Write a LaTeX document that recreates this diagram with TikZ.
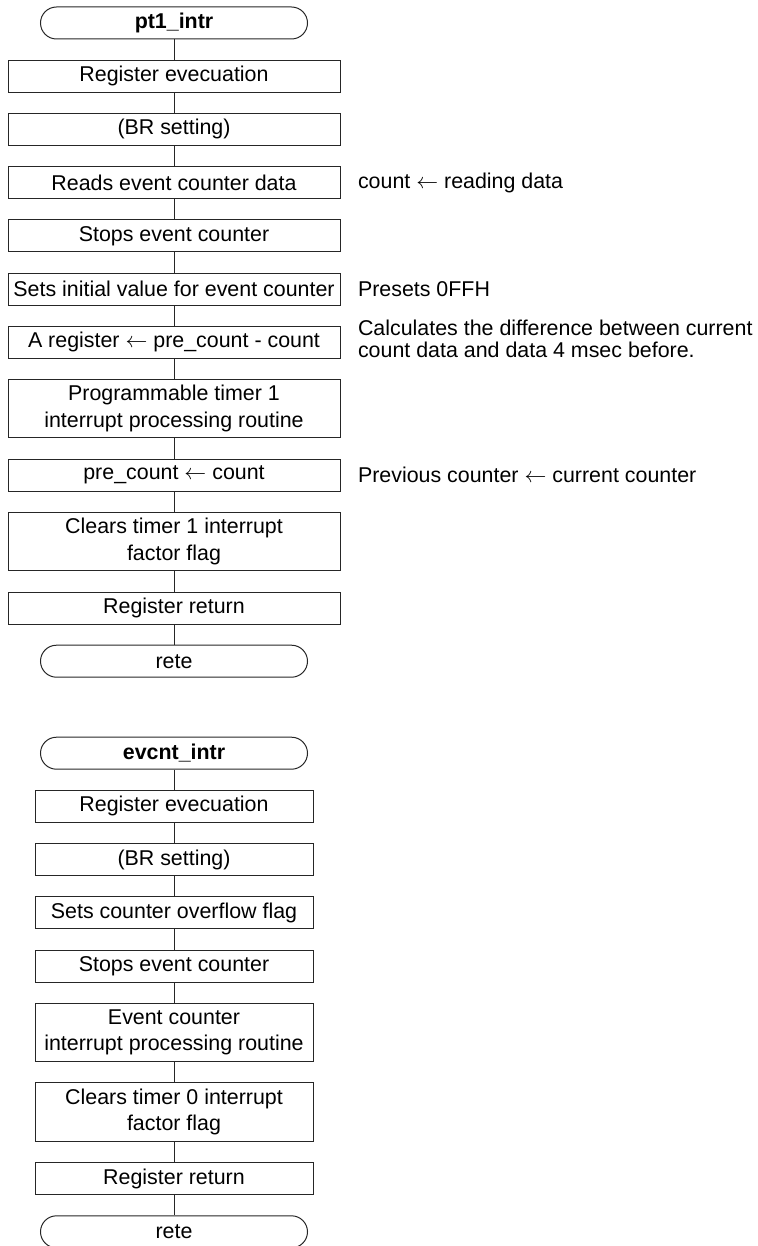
\documentclass[tikz,border=0pt]{standalone}
\usepackage{fontspec}
\setmainfont{Liberation Sans}
\usepackage{tikz}
\usetikzlibrary{positioning}

\begin{document}
\begin{tikzpicture}[every node/.style={font=\fontsize{10.7}{13.3}\selectfont, inner sep=0pt},
  line width=0.5pt, draw=black!85,
  term/.style={draw, rounded corners=8pt, minimum width=133.5pt, minimum height=16pt},
  upbox/.style={draw, align=center, minimum width=166pt},
  lowbox/.style={draw, align=center, minimum width=139pt},
  note/.style={align=left, font=\fontsize{10.7}{11}\selectfont}]
  \useasboundingbox (0,0) rectangle (378.5pt,-623pt);
  % pt1_intr
  \node[term] (A0) at (87pt,-11.5pt) {\bfseries pt1\_intr};
  \foreach \i/\txt/\hgt in {1/Register evecuation/16pt, 2/{(BR setting)}/16pt,
      3/Reads event counter data/16pt, 4/Stops event counter/16pt,
      5/Sets initial value for event counter/16pt, 6/A register $\leftarrow$ pre\_count - count/16pt,
      7/Programmable timer 1\\interrupt processing routine/29.25pt,
      8/pre\_count $\leftarrow$ count/16pt, 9/Clears timer 1 interrupt\\factor flag/29.25pt,
      10/Register return/16pt} {
    \pgfmathtruncatemacro{\j}{\i-1}
    \node[upbox, minimum height=\hgt, below=10.1pt of A\j] (A\i) {\txt};
  }
  \node[term, below=10.1pt of A10] (A11) {rete};
  \foreach \i in {1,...,11} {
    \pgfmathtruncatemacro{\j}{\i-1}
    \draw (A\j) -- (A\i);
  }
  \node[note, right=8.5pt of A3] (N3) {count $\leftarrow$ reading data};
  \node[note, right=8.5pt of A5] (N5) {Presets 0FFH};
  \node[note, right=8.5pt of A6, yshift=1.5pt] (N6) {Calculates the difference between current\\count data and data 4 msec before.};
  \node[note, right=8.5pt of A8] (N8) {Previous counter $\leftarrow$ current counter};
  % evcnt_intr
  \node[term, below=29.5pt of A11] (B0) {\bfseries evcnt\_intr};
  \foreach \i/\txt/\hgt in {1/Register evecuation/16pt, 2/{(BR setting)}/16pt,
      3/Sets counter overflow flag/16pt, 4/Stops event counter/16pt,
      5/Event counter\\interrupt processing routine/29.25pt,
      6/Clears timer 0 interrupt\\factor flag/29.25pt, 7/Register return/16pt} {
    \pgfmathtruncatemacro{\j}{\i-1}
    \node[lowbox, minimum height=\hgt, below=10.1pt of B\j] (B\i) {\txt};
  }
  \node[term, below=10.1pt of B7] (B8) {rete};
  \foreach \i in {1,...,8} {
    \pgfmathtruncatemacro{\j}{\i-1}
    \draw (B\j) -- (B\i);
  }
\end{tikzpicture}
\end{document}
